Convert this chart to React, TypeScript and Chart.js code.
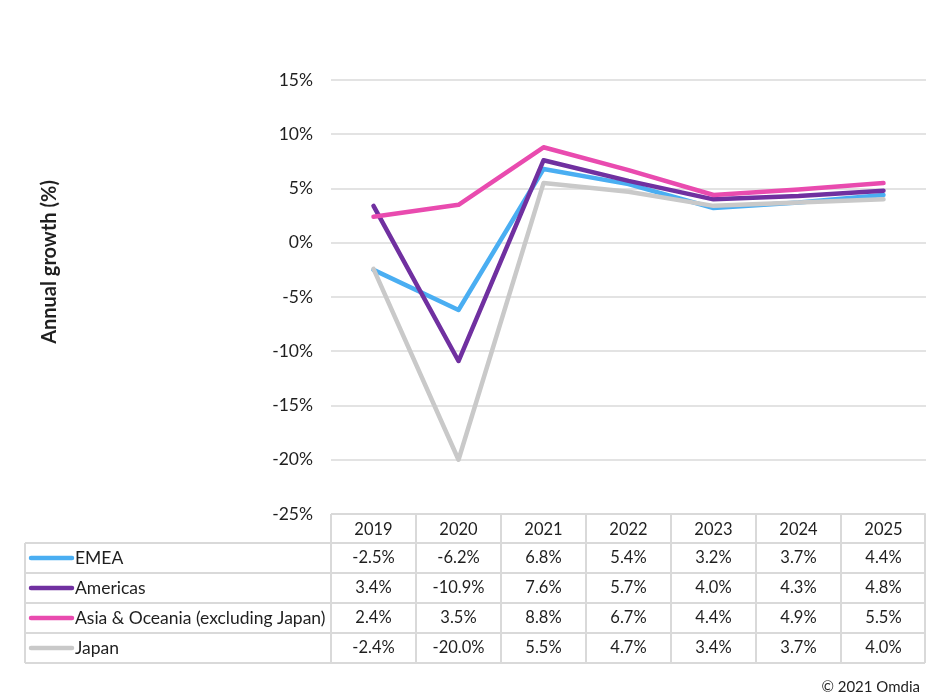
import React, { useEffect, useRef } from "react";
import { Chart, registerables } from "chart.js";

Chart.register(...registerables);

const years = ["2019", "2020", "2021", "2022", "2023", "2024", "2025"];
const seriesNames = ["EMEA", "Americas", "Asia & Oceania (excluding Japan)", "Japan"];
const seriesColors = ["#4aaef2", "#7030a0", "#e94baf", "#c9c9c9"];
const emea = [-2.5, -6.2, 6.8, 5.4, 3.2, 3.7, 4.4];
const americas = [3.4, -10.9, 7.6, 5.7, 4.0, 4.3, 4.8];
const asia = [2.4, 3.5, 8.8, 6.7, 4.4, 4.9, 5.5];
const japan = [-2.4, -20.0, 5.5, 4.7, 3.4, 3.7, 4.0];
const seriesValues = [emea, americas, asia, japan];
const yMin = -25;
const yMax = 15;
const yStep = 5;
const yTitle = "Annual growth (%)";
const credit = "\u00a9 2021 Omdia";

const FONT = "Lato, 'Liberation Sans', sans-serif";
const TEXT = "#1f1f1f";
const LINE = "#d9d9d9";

const tablePlugin = {
  id: "dataTable",
  afterDraw(chart: any) {
    const ctx = chart.ctx as CanvasRenderingContext2D;
    const xs = chart.scales.x;
    const area = chart.chartArea;
    const n = years.length;
    const colW = (area.right - area.left) / n;
    const top = area.bottom;
    const headH = 29;
    const rowH = 30;
    const tableLeft = 25;
    const right = area.right - 1;
    const rowsTop = top + headH;
    const bottom = rowsTop + rowH * seriesNames.length;

    ctx.save();
    ctx.fillStyle = TEXT;
    ctx.font = `bold 20px ${FONT}`;
    ctx.textAlign = "center";
    ctx.textBaseline = "middle";
    ctx.translate(50, 262);
    ctx.rotate(-Math.PI / 2);
    ctx.fillText(yTitle, 0, 0);
    ctx.restore();

    ctx.save();
    ctx.strokeStyle = LINE;
    ctx.lineWidth = 2;
    ctx.beginPath();
    ctx.moveTo(area.left, top);
    ctx.lineTo(right, top);
    for (let r = 0; r <= seriesNames.length; r++) {
      const y = rowsTop + r * rowH;
      ctx.moveTo(tableLeft, y);
      ctx.lineTo(right, y);
    }
    ctx.moveTo(tableLeft, rowsTop);
    ctx.lineTo(tableLeft, bottom);
    for (let c = 0; c <= n; c++) {
      const x = Math.min(area.left + c * colW, right);
      ctx.moveTo(x, top);
      ctx.lineTo(x, bottom);
    }
    ctx.stroke();

    ctx.fillStyle = TEXT;
    ctx.textBaseline = "middle";
    ctx.textAlign = "center";
    ctx.font = `16.5px ${FONT}`;
    years.forEach((yr, i) => {
      const cx = xs.getPixelForValue(i);
      ctx.fillText(yr, cx, top + headH / 2 + 1);
    });
    seriesNames.forEach((name, r) => {
      const cy = rowsTop + r * rowH + rowH / 2;
      ctx.strokeStyle = seriesColors[r];
      ctx.lineWidth = 4.5;
      ctx.lineCap = "round";
      ctx.beginPath();
      ctx.moveTo(31, cy);
      ctx.lineTo(72, cy);
      ctx.stroke();
      ctx.textAlign = "left";
      ctx.fillStyle = TEXT;
      ctx.font = `17.5px ${FONT}`;
      ctx.fillText(name, 75, cy);
      ctx.textAlign = "center";
      ctx.font = `16.5px ${FONT}`;
      seriesValues[r].forEach((v, i) => {
        const cx = xs.getPixelForValue(i);
        ctx.fillText(v.toFixed(1) + "%", cx, cy);
      });
    });

    ctx.font = `15px ${FONT}`;
    ctx.textAlign = "right";
    ctx.fillText(credit, 920, 687);
    ctx.restore();
  },
};

export default function App() {
  const ref = useRef<HTMLCanvasElement | null>(null);
  useEffect(() => {
    document.body.style.margin = "0";
    const canvas = ref.current;
    if (!canvas) return;
    const order = [3, 2, 1, 0];
    const chart = new Chart(canvas, {
      type: "line",
      data: {
        labels: years,
        datasets: seriesNames.map((name, i) => ({
          label: name,
          data: seriesValues[i],
          borderColor: seriesColors[i],
          backgroundColor: seriesColors[i],
          borderWidth: 4.5,
          pointRadius: 0,
          pointHoverRadius: 0,
          tension: 0,
          borderCapStyle: "round" as const,
          borderJoinStyle: "round" as const,
          order: order[i],
          fill: false,
        })),
      },
      options: {
        animation: false,
        responsive: false,
        devicePixelRatio: 1,
        layout: { padding: { top: 80, bottom: 186, left: 0, right: 0 } },
        plugins: {
          legend: { display: false },
          tooltip: { enabled: false },
          title: { display: false },
        },
        scales: {
          x: {
            type: "category",
            display: false,
            offset: true,
          },
          y: {
            min: yMin,
            max: yMax,
            afterFit(scale: any) {
              scale.width = 331;
            },
            border: { display: false },
            grid: { color: "#e3e3e3", lineWidth: 2, drawTicks: false },
            ticks: {
              stepSize: yStep,
              padding: 18,
              color: TEXT,
              font: { family: FONT, size: 17.5 },
              callback: (v: any) => `${v}%`,
            },
          },
        },
      },
      plugins: [tablePlugin],
    });
    return () => chart.destroy();
  }, []);
  return (
    <div style={{ width: 926, height: 700, background: "#fff" }}>
      <canvas ref={ref} width={926} height={700} style={{ display: "block" }} />
    </div>
  );
}
